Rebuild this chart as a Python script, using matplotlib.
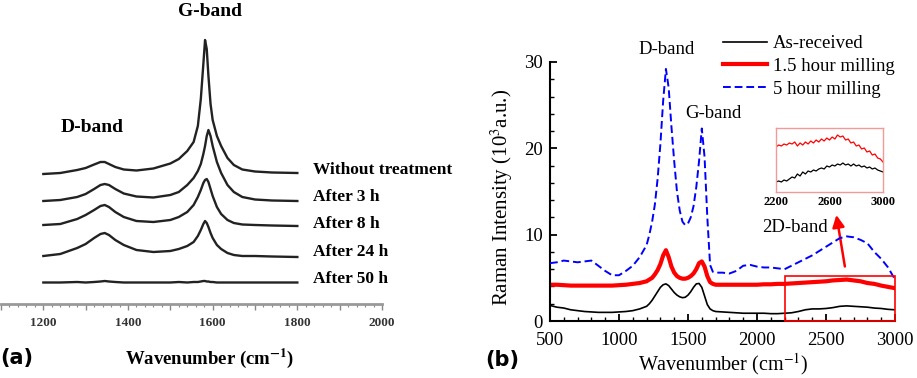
import matplotlib.pyplot as plt
from matplotlib.patches import Rectangle

# ---------------- panel (a) data: heights above the axis ----------------
wn_a = [1200, 1240, 1280, 1300, 1320, 1335, 1345, 1355, 1370, 1390, 1420, 1460,
        1500, 1520, 1540, 1555, 1565, 1572, 1578, 1582, 1586, 1590, 1595, 1600,
        1610, 1620, 1635, 1650, 1670, 1700, 1740, 1800]

no_treat = [130, 131, 134, 136, 139.5, 142, 142, 140, 137, 134.5, 133.5, 135.5,
            140.5, 145, 153, 162, 178, 205, 240, 264, 255, 228, 200, 184,
            168, 158, 146, 139, 134.5, 132.5, 131.5, 131]
after_3h = [103, 104, 107, 110, 115, 119, 120, 119, 115, 110.5, 107.5, 106.5,
            109, 112, 119, 126, 133, 140, 150, 158, 168, 174, 168, 158,
            142, 131, 119, 112, 107, 104.5, 103.5, 103]
after_8h = [79, 80, 85, 89, 94, 98, 99, 97, 92, 87, 83, 82,
            84, 87, 92, 99, 107, 114, 121, 124, 125, 122, 115, 108,
            97, 90, 84, 81, 79.5, 79, 78.5, 78]
after_24h = [48, 50, 56, 60, 66, 70, 71, 69, 64, 59, 54, 52,
             53, 55, 58, 62, 68, 74, 80, 83, 81, 77, 71, 66,
             59, 55, 51, 49, 48, 48, 47.5, 47]
after_50h = [21.5, 21.5, 22, 21.5, 22, 22.5, 23, 22.5, 22, 21.5, 21.5, 21.5,
             21.5, 22, 21.5, 22, 22, 22.5, 23, 23, 22.5, 22.5, 22, 22,
             21.5, 21.5, 21.5, 21.5, 21.5, 21.5, 21.5, 21.5]
labels_a = ["Without treatment", "After 3 h", "After 8 h", "After 24 h", "After 50 h"]

# ---------------- panel (b) data ----------------
wn_b = (list(range(500, 1200, 50)) + list(range(1200, 1720, 20))
        + list(range(1750, 3001, 50)))

as_received = [1.8, 1.6, 1.5, 1.3, 1.2, 1.1, 1.05, 1.0, 1.0, 1.0, 1.05, 1.1, 1.2, 1.4,
               1.7, 2.0, 2.4, 2.9, 3.4, 3.9, 4.2, 4.3, 4.1, 3.7, 3.3, 3.0, 2.8,
               2.7, 2.75, 3.0, 3.4, 3.9, 4.3, 4.35, 3.9, 2.9, 1.9, 1.4, 1.2, 1.1,
               1.05, 1.0, 0.95, 0.9, 0.9, 0.9, 0.9, 0.85, 0.85, 0.9, 0.95, 1.1, 1.3,
               1.4, 1.4, 1.45, 1.55, 1.7, 1.75, 1.7, 1.65, 1.6, 1.5, 1.45, 1.35, 1.3]
milling_15h = [4.2, 4.2, 4.15, 4.1, 4.1, 4.1, 4.1, 4.1, 4.1, 4.1, 4.15, 4.2, 4.3, 4.4,
               4.6, 4.8, 5.0, 5.4, 5.9, 6.6, 7.6, 8.2, 7.4, 6.3, 5.6, 5.2, 5.0,
               4.9, 4.9, 5.0, 5.2, 5.5, 6.0, 6.7, 6.9, 6.3, 5.2, 4.5, 4.3, 4.2,
               4.2, 4.2, 4.2, 4.2, 4.2, 4.2, 4.25, 4.25, 4.3, 4.3, 4.35, 4.4, 4.45,
               4.5, 4.55, 4.6, 4.7, 4.75, 4.8, 4.7, 4.6, 4.4, 4.3, 4.1, 3.95, 3.8]
milling_5h = [6.7, 6.8, 7.0, 6.9, 6.8, 6.9, 7.0, 6.4, 5.8, 5.3, 5.3, 5.8, 6.4, 7.4,
              8.8, 10.0, 11.5, 13.5, 16.5, 20.5, 25.5, 29.2, 27.0, 22.5, 18.5, 15.0, 12.8,
              11.5, 11.1, 11.3, 12.0, 13.3, 15.5, 18.5, 22.3, 19.0, 12.0, 6.5, 5.7, 5.6,
              5.6, 5.5, 5.8, 6.4, 6.5, 6.3, 6.2, 6.2, 6.1, 6.0, 6.4, 6.8, 7.2,
              7.6, 8.1, 8.6, 9.1, 9.6, 9.8, 9.7, 9.4, 9.0, 8.0, 7.2, 6.2, 4.8]

# inset (2D band, magnified, arbitrary offsets)
wn_in = list(range(2200, 3001, 20))
inset_red = [45, 47, 46, 48, 47, 49, 48, 50, 46, 49, 47, 50, 48, 51, 49, 52, 50, 53, 51,
             54, 52, 55, 53, 57, 55, 56, 52, 53, 49, 50, 46, 47, 43, 44, 40, 41, 37,
             38, 34, 33, 30]
inset_black = [10, 11, 10, 12, 11, 13, 15, 14, 18, 16, 20, 18, 21, 20, 22, 21, 23, 24, 23,
               26, 25, 27, 26, 28, 27, 29, 27, 28, 26, 28, 26, 27, 25, 26, 24, 25, 23,
               24, 22, 21, 20]

W, H = 917, 378
SERIF = 'Liberation Serif'
plt.rcParams['mathtext.fontset'] = 'stix'


def fp(x, y):
    return x / W, 1 - y / H


fig = plt.figure(figsize=(W / 100, H / 100), dpi=100)

# ---------------- panel (a) ----------------
ax_a = fig.add_axes([1 / W, 1 - 304 / H, 381 / W, 304 / H])
for vals in [no_treat, after_3h, after_8h, after_24h, after_50h]:
    ax_a.plot(wn_a, vals, color='#222222', lw=1.7)
ax_a.set_xlim(1100, 2000)
ax_a.set_ylim(0, 304)
for s in ['top', 'left', 'right']:
    ax_a.spines[s].set_visible(False)
ax_a.spines['bottom'].set_color('#999999')
ax_a.spines['bottom'].set_linewidth(2)
ax_a.set_yticks([])
ax_a.set_xticks(range(1100, 2001, 100),
                ['' if t % 200 else str(t) for t in range(1100, 2001, 100)])
ax_a.set_xticks(range(1100, 2001, 20), minor=True)
ax_a.tick_params(axis='x', which='major', direction='out', length=4, width=1,
                 color='#888888', labelsize=9.5, labelcolor='#333333', pad=5)
ax_a.tick_params(axis='x', which='minor', direction='out', length=2, width=0.8,
                 color='#888888')
for lab in ax_a.get_xticklabels():
    lab.set_family(SERIF)
    lab.set_weight('bold')

for lab, y in zip(labels_a, [170, 197, 224, 252, 279]):
    fig.text(*fp(313, y), lab, family=SERIF, weight='bold', fontsize=12.5,
             ha='left', va='center')
fig.text(*fp(210, 11), "G-band", family=SERIF, weight='bold', fontsize=14,
         ha='center', va='center')
fig.text(*fp(92, 128), "D-band", family=SERIF, weight='bold', fontsize=14,
         ha='center', va='center')
fig.text(*fp(210, 358), r"Wavenumber (cm$^{\mathbf{-1}}$)", family=SERIF,
         weight='bold', fontsize=13.5, ha='center', va='center')
fig.text(*fp(17, 358), "(a)", weight='bold', fontsize=15, ha='center', va='center')

# ---------------- panel (b) ----------------
ax_b = fig.add_axes([550 / W, 1 - 321 / H, 345 / W, 259 / H])
ax_b.plot(wn_b, as_received, color='black', lw=1.2, zorder=3)
ax_b.plot(wn_b, milling_15h, color='red', lw=3, zorder=2)
ax_b.plot(wn_b, milling_5h, color='blue', lw=1.4, ls=(0, (4, 2)), zorder=4)
ax_b.set_xlim(500, 3000)
ax_b.set_ylim(0, 30)
ax_b.spines['top'].set_visible(False)
ax_b.spines['right'].set_visible(False)
for s in ['left', 'bottom']:
    ax_b.spines[s].set_linewidth(1.5)
ax_b.set_xticks(range(500, 3001, 500))
ax_b.set_xticks(range(500, 3001, 100), minor=True)
ax_b.set_yticks([0, 10, 20, 30])
ax_b.set_yticks(range(0, 31, 2), minor=True)
ax_b.tick_params(which='major', direction='in', length=5, width=1.3,
                 labelsize=13.5, pad=5)
ax_b.tick_params(axis='x', which='major', pad=8)
ax_b.tick_params(which='minor', direction='in', length=3, width=1)
for lab in ax_b.get_xticklabels() + ax_b.get_yticklabels():
    lab.set_family(SERIF)

ax_b.add_patch(Rectangle((2200, 0), 800, 5.2, fill=False, ec='red', lw=1.2,
                         clip_on=False, zorder=5))
ax_b.annotate('', xy=(2572, 12.6), xytext=(2640, 6.0),
              arrowprops=dict(arrowstyle='-|>', color='red', lw=1.8,
                              mutation_scale=18))

fig.text(*fp(667, 50), "D-band", family=SERIF, fontsize=13.5, ha='center', va='center')
fig.text(*fp(713, 114), "G-band", family=SERIF, fontsize=13.5, ha='center', va='center')
fig.text(*fp(795, 228), "2D-band", family=SERIF, fontsize=13.5, ha='center', va='center')
fig.text(*fp(502, 197), r"Raman Intensity (10$^3$a.u.)", family=SERIF,
         fontsize=15, rotation=90, ha='center', va='center')
fig.text(*fp(723, 364), r"Wavenumber (cm$^{-1}$)", family=SERIF, fontsize=14.5,
         ha='center', va='center')
fig.text(*fp(502, 360), "(b)", weight='bold', fontsize=15, ha='center', va='center')

fig.legend(ax_b.get_lines(), ["As-received", "1.5 hour milling", "5 hour milling"],
           loc='upper left', bbox_to_anchor=fp(723, 35), frameon=False,
           prop={'family': SERIF, 'size': 13.5}, handlelength=2.35,
           handletextpad=0.3, labelspacing=0.3, borderpad=0, borderaxespad=0)

# inset
ax_in = fig.add_axes([776 / W, 1 - 192 / H, 107 / W, 64 / H])
ax_in.plot(wn_in, inset_red, color='red', lw=0.9)
ax_in.plot(wn_in, inset_black, color='black', lw=0.9)
ax_in.set_xlim(2200, 3000)
ax_in.set_ylim(0, 64)
for s in ax_in.spines.values():
    s.set_color('#f29a9a')
    s.set_linewidth(1)
ax_in.set_yticks([])
ax_in.set_xticks([2200, 2600, 3000])
ax_in.tick_params(axis='x', length=0, labelsize=9, pad=3)
for lab in ax_in.get_xticklabels():
    lab.set_family(SERIF)
    lab.set_weight('bold')

fig.savefig('out.png', dpi=100)
